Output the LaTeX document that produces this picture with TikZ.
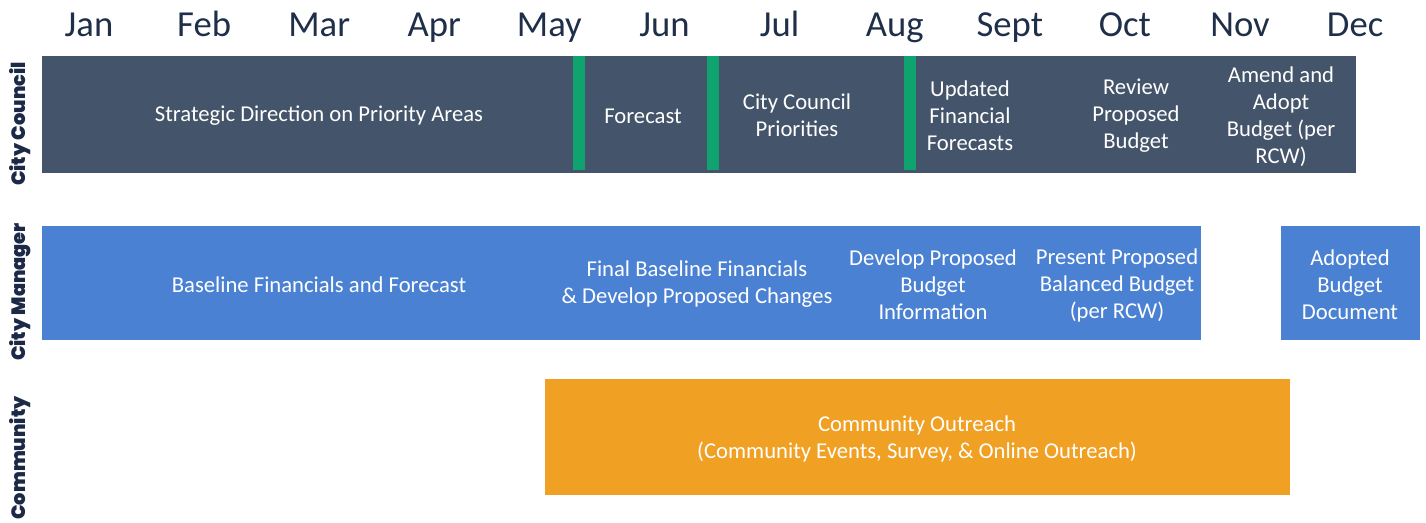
\documentclass[tikz,border=0pt]{standalone}
\usepackage{fontspec}
\setmainfont{Carlito}
\newfontfamily\lanefont{Poppins}[BoldFont={Poppins Black}]
\definecolor{council}{HTML}{44546A}
\definecolor{marker}{HTML}{0FA370}
\definecolor{manager}{HTML}{4A81D2}
\definecolor{outreach}{HTML}{F0A023}
\definecolor{monthink}{HTML}{1F2F4A}
\definecolor{laneink}{HTML}{1C2A48}

\begin{document}
\begin{tikzpicture}[x=0.75pt,y=-0.75pt]

      \tikzset{month/.style={anchor=base, inner sep=0pt, text=monthink, font=\fontsize{27.5}{30}\selectfont},
               lane/.style={rotate=90, inner sep=0pt, text=laneink, font=\lanefont\bfseries\fontsize{14.5}{17}\selectfont},
               task/.style={align=center, inner sep=0pt, text=white, font=\fontsize{17}{20.25}\selectfont}}
      \useasboundingbox (0,0) rectangle (1426,523);
%% Months
      \foreach \m [count=\i] in {Jan,Feb,Mar,Apr,May,Jun,Jul,Aug,Sept,Oct,Nov,Dec}
            \node[month] (m\i) at ({89+115.1*(\i-1)},37) {\m};
%% Lanes
      \node[lane] (laneCouncil) at (20,124) {City\ Council};
      \node[lane] (laneManager) at (20,292) {City\ Manager};
      \node[lane] (laneCommunity) at (20,458) {Community};
%Bars
      \fill[council] (42,56) rectangle (1356,173);
      \fill[marker] (573,56) rectangle (585,170);
      \fill[marker] (707,56) rectangle (719,170);
      \fill[marker] (904,56) rectangle (916,170);
      \fill[manager] (42,226) rectangle (1201,340);
      \fill[manager] (1281,226) rectangle (1420,340);
      \fill[outreach] (545,379) rectangle (1290,495);
%City Council
      \node[task] (strategic) at (319,116) {Strategic Direction on Priority Areas};
      \node[task] (forecast) at (643,116) {Forecast};
      \node[task] (priorities) at (797,115.5) {City Council\\Priorities};
      \node[task] (updated) at (970,116) {Updated\\Financial\\Forecasts};
      \node[task] (review) at (1136,116) {Review\\Proposed\\Budget};
      \node[task] (amend) at (1281,116.5) {Amend and\\Adopt\\Budget (per\\RCW)};
%City Manager
      \node[task] (baseline) at (319,285) {Baseline Financials and Forecast};
      \node[task] (final) at (697,284.5) {Final Baseline Financials\\\& Develop Proposed Changes};
      \node[task] (develop) at (933,285) {Develop Proposed\\Budget\\Information};
      \node[task] (present) at (1117,285) {Present Proposed\\Balanced Budget\\(per RCW)};
      \node[task] (adopted) at (1350,285) {Adopted\\Budget\\Document};
%Community
      \node[task] (outreachText) at (917,439) {Community Outreach\\(Community Events, Survey, \& Online Outreach)};

\end{tikzpicture}
\end{document}
